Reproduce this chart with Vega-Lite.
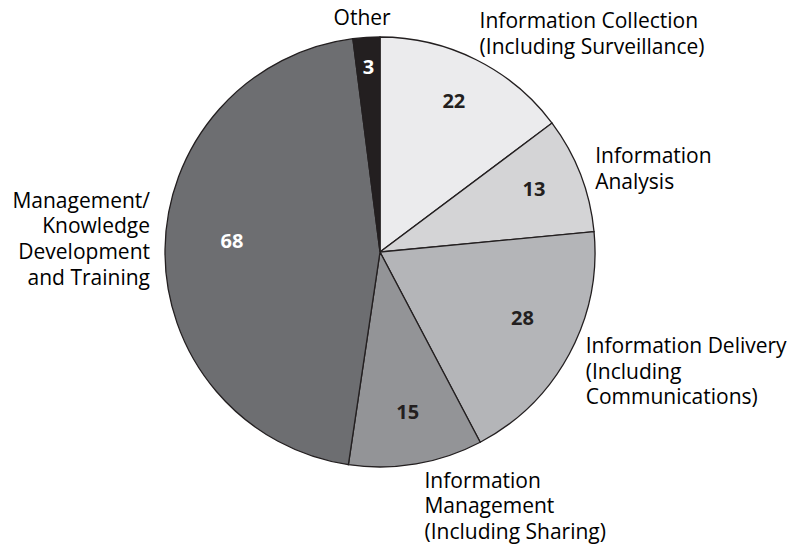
{
  "$schema": "https://vega.github.io/schema/vega-lite/v6.json",
  "autosize": "none",
  "width": 760,
  "height": 504,
  "padding": {"left": 0, "top": 0, "right": 35, "bottom": 41},
  "background": "white",
  "config": {
    "view": {"stroke": null},
    "style": {
      "lbl": {"font": "Open Sans", "fontSize": 21, "baseline": "middle", "lineBreak": "\n", "lineHeight": 25.8, "fill": "#231f20"},
      "num": {"font": "Open Sans", "fontSize": 20, "fontWeight": "bold", "align": "center", "baseline": "middle"}
    }
  },
  "data": {
    "values": [
      {"rank": 1, "category": "Information Collection", "label": "Information Collection\n(Including Surveillance)", "value": 22},
      {"rank": 2, "category": "Information Analysis", "label": "Information\nAnalysis", "value": 13},
      {"rank": 3, "category": "Information Delivery", "label": "Information Delivery\n(Including\nCommunications)", "value": 28},
      {"rank": 4, "category": "Information Management", "label": "Information\nManagement\n(Including Sharing)", "value": 15},
      {"rank": 5, "category": "Management/Knowledge Development and Training", "label": "Management/\nKnowledge\nDevelopment\nand Training", "value": 68},
      {"rank": 6, "category": "Other", "label": "Other", "value": 3}
    ]
  },
  "encoding": {
    "theta": {"field": "value", "type": "quantitative", "stack": true},
    "order": {"field": "rank", "type": "quantitative", "sort": "ascending"}
  },
  "layer": [
    {
      "mark": {"type": "arc", "outerRadius": 215, "stroke": "#231f20", "strokeWidth": 1.3},
      "encoding": {
        "color": {
          "field": "category",
          "type": "nominal",
          "legend": null,
          "scale": {
            "domain": ["Information Collection", "Information Analysis", "Information Delivery", "Information Management", "Management/Knowledge Development and Training", "Other"],
            "range": ["#ebebed", "#d4d4d6", "#b4b5b8", "#939497", "#6d6e71", "#231f20"]
          }
        }
      }
    },
    {
      "mark": {"type": "text", "style": "num", "radius": 165, "dy": -2, "color": "#231f20"},
      "encoding": {
        "text": {"condition": {"test": "indexof(['Information Collection','Information Analysis','Information Management'], datum.category) >= 0", "field": "value", "type": "quantitative"}, "value": ""}
      }
    },
    {
      "mark": {"type": "text", "style": "num", "radius": 162, "dy": -10, "color": "#231f20"},
      "encoding": {
        "text": {"condition": {"test": "datum.category === 'Information Delivery'", "field": "value", "type": "quantitative"}, "value": ""}
      }
    },
    {
      "mark": {"type": "text", "style": "num", "radius": 148, "dy": -8, "color": "white"},
      "encoding": {
        "text": {"condition": {"test": "datum.category === 'Management/Knowledge Development and Training'", "field": "value", "type": "quantitative"}, "value": ""}
      }
    },
    {
      "mark": {"type": "text", "style": "num", "radius": 184, "color": "white"},
      "encoding": {
        "text": {"condition": {"test": "datum.category === 'Other'", "field": "value", "type": "quantitative"}, "value": ""}
      }
    },
    {
      "mark": {"type": "text", "style": "lbl", "align": "left", "radius": 245, "dx": -10, "dy": -11},
      "encoding": {
        "text": {"condition": {"test": "datum.category === 'Information Collection'", "field": "label"}, "value": ""}
      }
    },
    {
      "mark": {"type": "text", "style": "lbl", "align": "left", "radius": 235, "dx": -4, "dy": -10},
      "encoding": {
        "text": {"condition": {"test": "datum.category === 'Information Analysis'", "field": "label"}, "value": ""}
      }
    },
    {
      "mark": {"type": "text", "style": "lbl", "align": "left", "radius": 235, "dx": -1, "dy": -17},
      "encoding": {
        "text": {"condition": {"test": "datum.category === 'Information Delivery'", "field": "label"}, "value": ""}
      }
    },
    {
      "mark": {"type": "text", "style": "lbl", "align": "left", "radius": 235, "dx": 5, "dy": -2},
      "encoding": {
        "text": {"condition": {"test": "datum.category === 'Information Management'", "field": "label"}, "value": ""}
      }
    },
    {
      "mark": {"type": "text", "style": "lbl", "align": "right", "radius": 230, "dy": -48},
      "encoding": {
        "text": {"condition": {"test": "datum.category === 'Management/Knowledge Development and Training'", "field": "label"}, "value": ""}
      }
    },
    {
      "mark": {"type": "text", "style": "lbl", "align": "center", "radius": 235, "dx": -3, "dy": 2},
      "encoding": {
        "text": {"condition": {"test": "datum.category === 'Other'", "field": "label"}, "value": ""}
      }
    }
  ]
}
